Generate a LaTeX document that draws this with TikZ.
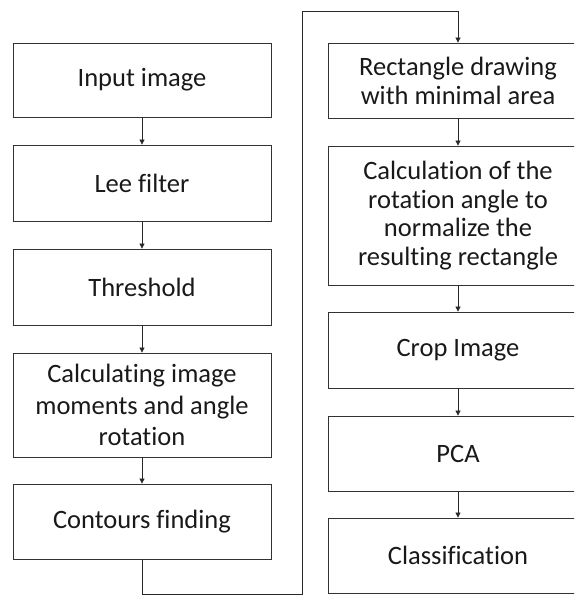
\documentclass[tikz,border=0pt]{standalone}
\usepackage{fontspec}
\setmainfont{Carlito}[Ligatures=NoCommon]
\usetikzlibrary{arrows.meta}
\definecolor{boxline}{RGB}{50, 50, 50}
\definecolor{linkline}{RGB}{40, 40, 40}
\definecolor{textdark}{RGB}{25, 25, 25}

\tikzset{
  stepbox/.style={draw=boxline, line width=0.8pt, minimum width=258pt,
    inner sep=0pt, align=center, text=textdark,
    font=\fontsize{26.5}{31.5}\selectfont},
  link/.style={draw=linkline, line width=0.7pt,
    -{Triangle[length=5pt, width=5pt]}}
}

\begin{document}
\begin{tikzpicture}[x=1pt, y=-1pt]
  \useasboundingbox (0,0) rectangle (574,595);
  \clip (0,0) rectangle (574,595);

  % Left column
  \node[stepbox, minimum height=74pt] (input) at (142,80) {Input image};
  \node[stepbox, minimum height=76pt] (lee) at (142,183) {Lee filter};
  \node[stepbox, minimum height=76pt] (thresh) at (142,287) {Threshold};
  \node[stepbox, minimum height=104pt] (moments) at (142,405)
    {Calculating image\\moments and angle\\rotation};
  \node[stepbox, minimum height=75pt] (contours) at (142,521.5)
    {Contours finding};

  % Right column
  \node[stepbox, minimum width=260pt, minimum height=75pt,
    font=\fontsize{26.5}{29}\selectfont] (rect) at (458,80.5)
    {Rectangle drawing\\with minimal area};
  \node[stepbox, minimum width=260pt, minimum height=139pt,
    font=\fontsize{26.5}{28.5}\selectfont] (angle) at (458,215.5)
    {Calculation of the\\rotation angle to\\normalize the\\resulting rectangle};
  \node[stepbox, minimum width=260pt, minimum height=76pt] (crop) at (458,350)
    {Crop Image};
  \node[stepbox, minimum width=260pt, minimum height=75pt] (pca) at (458,453.5)
    {PCA};
  \node[stepbox, minimum width=260pt, minimum height=75pt] (classif) at (458,555.5)
    {Classification};

  % Arrows
  \draw[link] (input) -- (lee);
  \draw[link] (lee) -- (thresh);
  \draw[link] (thresh) -- (moments);
  \draw[link] (moments) -- (contours);
  \draw[link] (rect) -- (angle);
  \draw[link] (angle) -- (crop);
  \draw[link] (crop) -- (pca);
  \draw[link] (pca) -- (classif);

  % Column change
  \coordinate (lowturn) at (302,594);
  \coordinate (topturn) at (302,11);
  \draw[link] (contours.south) |- (lowturn) -- (topturn) -| (rect.north);

\end{tikzpicture}
\end{document}
